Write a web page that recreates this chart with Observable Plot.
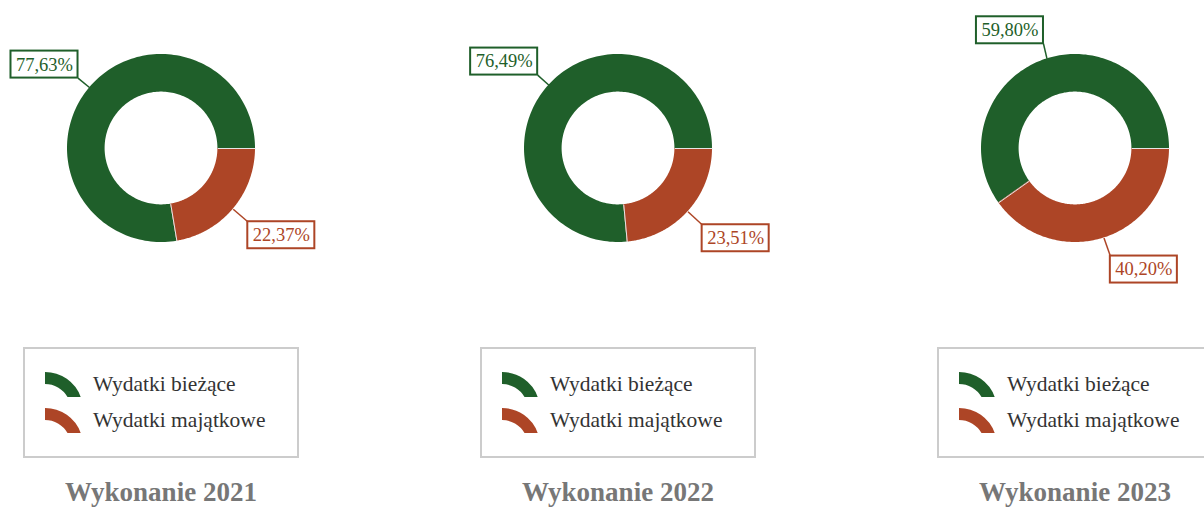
<!DOCTYPE html>
<html>
<head>
<meta charset="utf-8">
<script src="https://cdn.jsdelivr.net/npm/d3@7"></script>
<script src="https://cdn.jsdelivr.net/npm/@observablehq/plot@0.6"></script>
<style>
  html, body { margin: 0; padding: 0; background: #fff; }
  body { width: 1204px; height: 508px; overflow: hidden; position: relative; font-family: "Liberation Serif", "Times New Roman", Times, serif; }
  .panel { position: absolute; top: 0; width: 340px; height: 508px; }
  .panel > svg.plot { position: absolute; left: 0; top: 0; overflow: visible; }
  .panel text { font-family: "Liberation Serif", "Times New Roman", Times, serif; }
  .legend { position: absolute; left: 0; top: 340px; }
  .title { position: absolute; left: 0; width: 322px; top: 477px; text-align: center; font-weight: bold; font-size: 27px; color: #777; font-family: "Liberation Serif", "Times New Roman", Times, serif; white-space: nowrap; }
</style>
</head>
<body>
<script>
// ---- data ----
const years = ["2021", "2022", "2023"];
const series = ["Wydatki bieżące", "Wydatki majątkowe"];
const biezace = [77.63, 76.49, 59.80];
const majatkowe = [22.37, 23.51, 40.20];
const colors = ["#1f5f2a", "#ad4526"];
const titlePrefix = "Wykonanie ";

// ---- helpers ----
const FONT = "'Liberation Serif', 'Times New Roman', Times, serif";
const INNER = 0.6;
const PX_PER_UNIT = 94;
const LABEL_SIZE = 18.5;
const canvas = document.createElement("canvas");
const ctx = canvas.getContext("2d");
ctx.font = `${LABEL_SIZE}px ${FONT}`;
const fmt = v => v.toFixed(2).replace(".", ",") + "%";

function donut(k) {
  const vals = [biezace[k], majatkowe[k]];
  const total = vals[0] + vals[1];
  const slices = [
    {s: series[0], v: vals[0], a0: 0, a1: 2 * Math.PI * vals[0] / total},
    {s: series[1], v: vals[1], a0: -2 * Math.PI * vals[1] / total, a1: 0}
  ];
  const N = 160;
  const pts = slices.flatMap(sl => d3.range(N + 1).map(i => {
    const t = sl.a0 + (sl.a1 - sl.a0) * i / N;
    return {s: sl.s, x1: Math.cos(t), y1: Math.sin(t), x2: INNER * Math.cos(t), y2: INNER * Math.sin(t)};
  }));
  const labels = slices.map(sl => {
    const m = (sl.a0 + sl.a1) / 2;
    const c = Math.cos(m), sn = Math.sin(m);
    const ex = 1.19 * c + (c < 0 ? 0.02 : 0.01), ey = 1.19 * sn - (sn > 0 ? 0.02 : 0.01);
    const text = fmt(sl.v);
    const w = (ctx.measureText(text).width + 10) / PX_PER_UNIT;
    const h = 27 / PX_PER_UNIT;
    const bx1 = c < 0 ? ex - w : ex, bx2 = c < 0 ? ex : ex + w;
    const by1 = sn > 0 ? ey : ey - h, by2 = sn > 0 ? ey + h : ey;
    return {s: sl.s, text, sx: c, sy: sn, ex, ey, bx1, bx2, by1, by2, cx: (bx1 + bx2) / 2, cy: (by1 + by2) / 2};
  });
  const seps = slices.map(sl => ({x1: INNER * Math.cos(sl.a0), y1: INNER * Math.sin(sl.a0), x2: Math.cos(sl.a0), y2: Math.sin(sl.a0)}));

  return Plot.plot({
    width: 340,
    height: 300,
    margin: 0,
    x: {domain: [-1, 1], range: [67, 255], axis: null},
    y: {domain: [-1, 1], range: [242, 54], axis: null},
    color: {domain: series, range: colors},
    style: {background: "transparent", fontFamily: FONT, overflow: "visible"},
    marks: [
      Plot.area(pts, {x1: "x1", y1: "y1", x2: "x2", y2: "y2", z: "s", fill: "s", curve: "linear"}),
      Plot.link(seps, {x1: "x1", y1: "y1", x2: "x2", y2: "y2", stroke: "#e6e6e6", strokeWidth: 1}),
      Plot.link(labels, {x1: "sx", y1: "sy", x2: "ex", y2: "ey", stroke: "s", strokeWidth: 1.5}),
      Plot.rect(labels, {x1: "bx1", x2: "bx2", y1: "by1", y2: "by2", fill: "white", stroke: "s", strokeWidth: 2}),
      Plot.text(labels, {x: "cx", y: "cy", text: "text", fill: "s", fontSize: LABEL_SIZE, fontFamily: FONT, textAnchor: "middle", lineAnchor: "middle"})
    ]
  });
}

function legendSvg() {
  const svg = d3.create("svg").attr("class", "legend").attr("width", 340).attr("height", 125);
  svg.append("rect").attr("x", 24).attr("y", 8).attr("width", 274).attr("height", 109)
    .attr("fill", "none").attr("stroke", "#cccccc").attr("stroke-width", 2);
  // quarter ring symbol, centred below, cut by a horizontal line
  const R = 38, r = 26, cut = 13;
  const ox = Math.sqrt(R * R - cut * cut), ix = Math.sqrt(r * r - cut * cut);
  const d = `M0,${-R} A${R},${R} 0 0 1 ${ox},${-cut} L${ix},${-cut} A${r},${r} 0 0 0 0,${-r} Z`;
  series.forEach((s, i) => {
    svg.append("path").attr("d", d).attr("fill", colors[i])
      .attr("transform", `translate(45,${70 + i * 36})`);
    svg.append("text").attr("x", 93).attr("y", 51 + i * 36).attr("fill", "#333")
      .attr("font-size", 21.5).attr("font-family", FONT).text(s);
  });
  return svg.node();
}

years.forEach((yr, k) => {
  const panel = document.createElement("div");
  panel.className = "panel";
  panel.style.left = (457 * k) + "px";
  const chart = donut(k);
  chart.classList.add("plot");
  panel.appendChild(chart);
  panel.appendChild(legendSvg());
  const t = document.createElement("div");
  t.className = "title";
  t.textContent = titlePrefix + yr;
  panel.appendChild(t);
  document.body.appendChild(panel);
});
</script>
</body>
</html>
